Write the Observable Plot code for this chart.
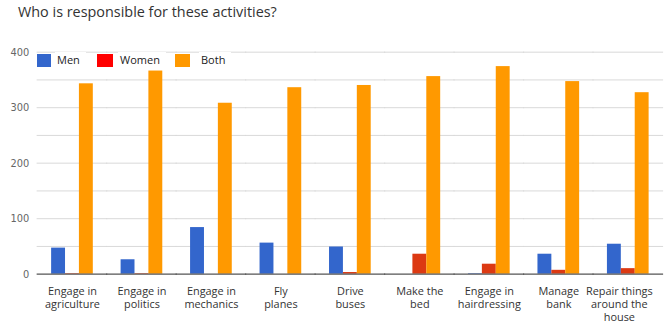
<!DOCTYPE html>
<html>
<head>
<meta charset="utf-8">
<script src="https://cdn.jsdelivr.net/npm/d3@7"></script>
<script src="https://cdn.jsdelivr.net/npm/@observablehq/plot@0.6"></script>
<style>
  html, body { margin: 0; padding: 0; background: #fff; }
  #wrap { position: relative; width: 665px; height: 329px; overflow: hidden; }
  #title { height: 35px; padding-left: 18px; font-family: "Open Sans", sans-serif; font-size: 14.4px; color: #333; line-height: 24px; white-space: nowrap; }
  #legend { position: absolute; top: 0; left: 0; font-family: "Open Sans", sans-serif; font-size: 11px; color: #222; }
  #legend .sw { position: absolute; height: 13px; top: 54px; }
  #legend .lab { position: absolute; top: 52px; line-height: 14px; background: #fff; padding: 1px 6px 1px 2px; }
  svg { display: block; }
</style>
</head>
<body>
<div id="wrap">
  <div id="title">Who is responsible for these activities?</div>
  <div id="chart"></div>
  <div id="legend"></div>
</div>
<script>
const activities = [
  "Engage in\nagriculture",
  "Engage in\npolitics",
  "Engage in\nmechanics",
  "Fly\nplanes",
  "Drive\nbuses",
  "Make the\nbed",
  "Engage in\nhairdressing",
  "Manage\nbank",
  "Repair things\naround the\nhouse"
];
const groups = ["Men", "Women", "Both"];
const men   = [47, 26, 84, 56, 49, 0, 1, 36, 54];
const women = [1, 1, 0, 0, 3, 36, 18, 7, 10];
const both  = [343, 366, 308, 336, 340, 356, 374, 347, 327];
const barColors = ["#3366cc", "#dc3912", "#ff9900"];
const legendColors = ["#3366cc", "#ff0000", "#ff9900"];
const yTicks = [0, 100, 200, 300, 400];
const yGrid = [50, 100, 150, 200, 250, 300, 350, 400];

const series = [men, women, both];
const data = [];
activities.forEach((a, i) => groups.forEach((g, j) => data.push({activity: a, group: g, value: series[j][i]})));

const W = 670, ML = 37.5, MR = 1.5;
const pin = 0.385, pout = pin / 2;
const step = (W - ML - MR) / 9;
const ext = -(pout * step) - 0.6; // extend rules across facet gaps
const fxAxisStyle = {anchor: "bottom", tickSize: 0, tickPadding: 11.5, label: null, fontSize: 11, fill: "#333", lineHeight: 1.2};

const chart = Plot.plot({
  width: W,
  height: 294,
  marginTop: 16.8,
  marginBottom: 53.5,
  marginLeft: ML,
  marginRight: MR,
  style: {fontFamily: "Open Sans, sans-serif", background: "white"},
  fx: {domain: activities, paddingInner: pin, paddingOuter: pout, label: null},
  x: {domain: groups, padding: 0.03, axis: null},
  y: {domain: [0, 400], label: null},
  color: {domain: groups, range: barColors},
  marks: [
    Plot.ruleY(yGrid, {stroke: "#d9d9d9", strokeWidth: 1, insetLeft: ext, insetRight: ext}),
    Plot.barY(data, {fx: "activity", x: "group", y: "value", fill: "group"}),
    Plot.ruleY([0], {stroke: "#555", strokeWidth: 1.2, insetLeft: ext, insetRight: ext}),
    Plot.axisY({ticks: yTicks, tickSize: 0, tickPadding: pout * step + 8.5, label: null,
      fontFamily: "Liberation Sans Narrow, DejaVu Sans Condensed, sans-serif", fontSize: 11, fill: "#666"}),
    Plot.axisFx({...fxAxisStyle, ticks: activities.slice(0, 8)}),
    Plot.axisFx({...fxAxisStyle, ticks: activities.slice(8), dx: -9})
  ]
});
document.getElementById("chart").appendChild(chart);

const legend = document.getElementById("legend");
const swX = [37, 97, 175], swW = [14, 16, 15], labX = [55, 118, 199];
groups.forEach((g, i) => {
  const lab = document.createElement("span");
  lab.className = "lab";
  lab.style.left = labX[i] + "px";
  lab.textContent = g;
  legend.appendChild(lab);
  const sw = document.createElement("span");
  sw.className = "sw";
  sw.style.left = swX[i] + "px";
  sw.style.width = swW[i] + "px";
  sw.style.background = legendColors[i];
  legend.appendChild(sw);
});
</script>
</body>
</html>
